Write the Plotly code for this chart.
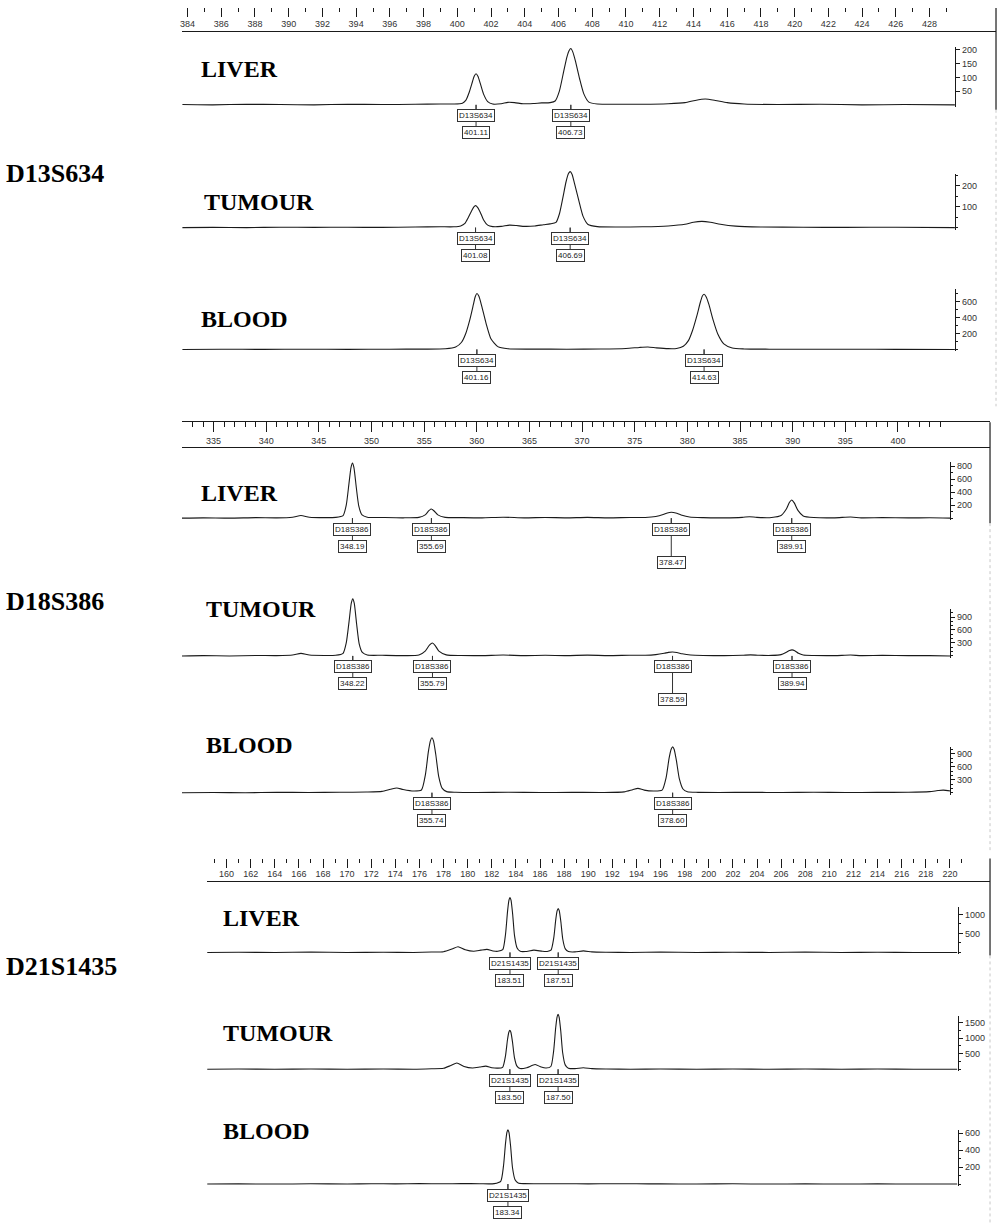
import plotly.graph_objects as go

# ---------------- data ----------------
markers = ["D13S634", "D18S386", "D21S1435"]
samples = ["LIVER", "TUMOUR", "BLOOD"]

d13_ruler_ticks = [384, 386, 388, 390, 392, 394, 396, 398, 400, 402, 404, 406, 408,
                   410, 412, 414, 416, 418, 420, 422, 424, 426, 428]
d18_ruler_ticks = [335, 340, 345, 350, 355, 360, 365, 370, 375, 380, 385, 390, 395, 400]
d21_ruler_ticks = [160, 162, 164, 166, 168, 170, 172, 174, 176, 178, 180, 182, 184, 186,
                   188, 190, 192, 194, 196, 198, 200, 202, 204, 206, 208, 210, 212, 214,
                   216, 218, 220]

# D13S634 traces
d13_liver_x = [383.7, 385.5, 387.5, 389.5, 391.5, 393.5, 395.5, 397.5, 399.0, 399.8,
               400.3, 400.5, 400.7, 400.9, 401.0, 401.11, 401.22, 401.35, 401.55, 401.8,
               402.1, 402.6, 403.0, 403.4, 403.9, 404.5, 405.0, 405.5, 405.8, 406.05,
               406.3, 406.5, 406.63, 406.73, 406.85, 407.0, 407.25, 407.5, 407.8, 408.3,
               409.5, 411.0, 412.5, 413.5, 414.1, 414.7, 415.3, 416.0, 417.0, 419.0,
               421.5, 424.0, 426.5, 429.5]
d13_liver_y = [1, 0, 2, 1, 0, 2, 1, 2, 3, 3,
               6, 16, 45, 85, 104, 113, 104, 80, 40, 12,
               3, 4, 9, 8, 4, 5, 7, 8, 14, 50,
               120, 175, 198, 205, 192, 160, 95, 40, 10, 3,
               2, 2, 4, 8, 16, 21, 16, 8, 3, 1,
               2, 0, 1, 0]
d13_tumour_x = [383.7, 385.5, 387.5, 389.5, 391.5, 393.5, 395.5, 397.5, 399.0, 399.8,
                400.2, 400.45, 400.65, 400.85, 400.97, 401.08, 401.2, 401.35, 401.55, 401.8,
                402.1, 402.6, 403.1, 403.5, 404.0, 404.6, 405.1, 405.5, 405.85, 406.05,
                406.25, 406.45, 406.59, 406.69, 406.8, 406.95, 407.2, 407.45, 407.75, 408.3,
                409.5, 411.0, 412.5, 413.5, 414.0, 414.5, 415.0, 415.6, 416.5, 418.0,
                420.5, 423.0, 426.0, 429.5]
d13_tumour_y = [0, 1, 0, 2, 1, 2, 1, 3, 4, 4,
                8, 20, 48, 80, 98, 105, 97, 75, 38, 12,
                5, 6, 12, 10, 6, 8, 14, 18, 25, 65,
                140, 220, 258, 267, 255, 210, 130, 55, 15, 5,
                3, 4, 8, 16, 26, 30, 26, 16, 7, 3,
                2, 1, 2, 0]
d13_blood_x = [383.7, 386.0, 388.5, 391.0, 393.5, 396.0, 398.0, 399.3, 399.9, 400.25,
               400.5, 400.75, 400.95, 401.06, 401.16, 401.28, 401.45, 401.7, 402.0, 402.4,
               403.0, 404.5, 406.5, 408.5, 410.0, 410.8, 411.3, 411.8, 412.5, 413.0,
               413.4, 413.7, 413.95, 414.2, 414.42, 414.53, 414.63, 414.75, 414.92, 415.15,
               415.45, 415.8, 416.3, 417.0, 418.5, 421.0, 423.5, 426.0, 429.5]
d13_blood_y = [0, 2, 1, 2, 1, 3, 4, 8, 30, 90,
               200, 380, 560, 660, 700, 665, 540, 330, 130, 35,
               8, 4, 3, 5, 12, 25, 30, 20, 10, 12,
               40, 110, 240, 420, 600, 670, 690, 660, 560, 380,
               190, 70, 18, 6, 3, 2, 3, 1, 0]

# D18S386 traces
d18_liver_x = [332.0, 334.0, 336.5, 339.0, 341.0, 342.5, 343.3, 344.1, 345.5, 346.6,
               347.3, 347.6, 347.85, 348.05, 348.19, 348.33, 348.55, 348.8, 349.1, 349.6,
               351.0, 353.0, 354.5, 355.1, 355.45, 355.69, 355.95, 356.3, 357.0, 358.5,
               360.5, 362.5, 364.5, 366.5, 368.5, 370.5, 372.5, 374.5, 376.0, 377.0,
               377.7, 378.1, 378.47, 378.9, 379.4, 380.2, 381.5, 383.5, 385.2, 385.9,
               386.6, 388.0, 388.9, 389.4, 389.7, 389.91, 390.15, 390.5, 391.0, 392.0,
               394.0, 395.5, 396.5, 398.5, 401.0, 403.0, 405.0]
d18_liver_y = [0, 5, 0, 8, 5, 15, 40, 15, 8, 12,
               40, 200, 520, 780, 848, 780, 480, 180, 50, 15,
               10, 5, 12, 50, 115, 140, 110, 50, 12, 8,
               5, 15, 5, 10, 5, 12, 5, 10, 10, 25,
               55, 80, 90, 80, 50, 18, 8, 5, 12, 22,
               12, 10, 40, 140, 245, 280, 235, 120, 35, 10,
               5, 18, 5, 8, 4, 6, 0]
d18_tumour_x = [332.0, 334.0, 336.5, 339.0, 341.0, 342.5, 343.3, 344.1, 345.5, 346.6,
                347.3, 347.6, 347.87, 348.08, 348.22, 348.36, 348.58, 348.83, 349.13, 349.6,
                351.0, 353.0, 354.5, 355.1, 355.5, 355.79, 356.05, 356.4, 357.1, 358.5,
                360.5, 362.5, 364.5, 366.5, 368.5, 370.5, 372.5, 374.5, 376.0, 377.0,
                377.8, 378.2, 378.59, 379.0, 379.5, 380.3, 381.5, 383.5, 385.2, 386.0,
                386.8, 388.0, 388.9, 389.4, 389.7, 389.94, 390.2, 390.55, 391.0, 392.0,
                394.0, 395.5, 396.5, 398.5, 401.0, 403.0, 405.0]
d18_tumour_y = [0, 8, 0, 10, 8, 20, 60, 20, 10, 15,
                60, 300, 800, 1220, 1320, 1220, 750, 280, 80, 20,
                15, 8, 20, 110, 250, 300, 240, 110, 25, 10,
                8, 20, 8, 15, 8, 18, 8, 15, 15, 30,
                60, 82, 90, 80, 50, 20, 10, 8, 15, 25,
                15, 12, 30, 85, 125, 140, 120, 60, 20, 10,
                8, 20, 8, 12, 6, 8, 0]
d18_blood_x = [332.0, 335.0, 338.0, 341.0, 344.0, 347.0, 349.5, 351.0, 351.8, 352.4,
               353.0, 354.0, 354.74, 355.12, 355.40, 355.60, 355.74, 355.88, 356.10, 356.38,
               356.72, 357.14, 358.0, 360.0, 363.0, 366.0, 369.0, 372.0, 374.0, 374.8,
               375.3, 375.9, 376.8, 377.6, 377.98, 378.26, 378.46, 378.60, 378.74, 378.96,
               379.24, 379.58, 380.0, 381.0, 383.0, 386.0, 389.0, 392.0, 395.0, 398.0,
               401.0, 403.0, 403.8, 404.3, 405.0]
d18_blood_y = [0, 5, 0, 8, 5, 10, 15, 30, 80, 110,
               75, 40, 63, 420, 950, 1205, 1270, 1205, 890, 380,
               100, 25, 10, 5, 10, 5, 8, 5, 20, 70,
               100, 60, 40, 60, 350, 795, 1007, 1060, 1007, 740,
               318, 85, 21, 8, 5, 8, 5, 10, 5, 8,
               10, 25, 50, 60, 40]

# D21S1435 traces
d21_liver_x = [158.4, 161.0, 164.0, 167.0, 170.0, 173.0, 175.5, 177.0, 178.0, 178.7,
               179.2, 179.8, 180.5, 181.1, 181.6, 182.1, 182.5, 182.91, 183.14, 183.31,
               183.425, 183.51, 183.595, 183.73, 183.89, 184.10, 184.36, 184.8, 185.5, 186.2,
               186.6, 186.91, 187.14, 187.31, 187.425, 187.51, 187.595, 187.73, 187.89, 188.10,
               188.36, 188.9, 189.6, 190.3, 191.5, 193.5, 196.0, 199.0, 202.0, 205.0,
               208.0, 211.0, 214.0, 217.0, 220.6]
d21_liver_y = [0, 5, 0, 8, 0, 5, 0, 10, 20, 90,
               150, 70, 30, 60, 80, 40, 30, 72, 480, 1090,
               1380, 1450, 1380, 1015, 435, 116, 29, 25, 60, 30,
               25, 58, 382, 870, 1100, 1158, 1100, 810, 347, 93,
               23, 15, 40, 15, 5, 0, 8, 0, 5, 0,
               8, 0, 5, 0, 0]
d21_tumour_x = [158.4, 161.0, 164.0, 167.0, 170.0, 173.0, 175.5, 177.0, 178.0, 178.6,
                179.1, 179.7, 180.4, 181.0, 181.5, 182.0, 182.5, 182.90, 183.13, 183.30,
                183.415, 183.50, 183.585, 183.72, 183.88, 184.09, 184.35, 184.9, 185.6, 186.1,
                186.5, 186.90, 187.13, 187.30, 187.415, 187.50, 187.585, 187.72, 187.88, 188.09,
                188.35, 188.9, 189.6, 190.3, 191.5, 193.5, 196.0, 199.0, 202.0, 205.0,
                208.0, 211.0, 214.0, 217.0, 220.6]
d21_tumour_y = [0, 8, 0, 10, 0, 8, 0, 15, 30, 120,
                200, 90, 40, 70, 100, 50, 35, 62, 410, 935,
                1183, 1245, 1183, 870, 375, 100, 25, 50, 150, 70,
                40, 88, 580, 1318, 1670, 1757, 1670, 1230, 527, 140,
                35, 20, 50, 20, 8, 0, 10, 0, 8, 0,
                10, 0, 8, 0, 0]
d21_blood_x = [158.4, 161.0, 164.0, 167.0, 170.0, 172.0, 174.0, 176.0, 178.0, 179.5,
               181.0, 182.2, 182.74, 182.97, 183.14, 183.255, 183.34, 183.425, 183.56, 183.72,
               183.93, 184.19, 184.7, 186.0, 188.0, 190.0, 192.0, 194.0, 196.0, 199.0,
               202.0, 205.0, 208.0, 211.0, 214.0, 217.0, 220.6]
d21_blood_y = [0, 2, 0, 3, 1, 4, 2, 5, 3, 6,
               4, 5, 32, 211, 480, 608, 640, 608, 448, 192,
               51, 13, 5, 3, 4, 2, 4, 3, 2, 1,
               3, 0, 2, 0, 2, 0, 0]

# called peaks (allele sizes)
d13_liver_peaks = [401.11, 406.73]
d13_tumour_peaks = [401.08, 406.69]
d13_blood_peaks = [401.16, 414.63]
d18_liver_peaks = [348.19, 355.69, 378.47, 389.91]
d18_tumour_peaks = [348.22, 355.79, 378.59, 389.94]
d18_blood_peaks = [355.74, 378.60]
d21_liver_peaks = [183.51, 187.51]
d21_tumour_peaks = [183.50, 187.50]
d21_blood_peaks = [183.34]

# right-hand intensity axis tick labels
d13_liver_yticks = [50, 100, 150, 200]
d13_tumour_yticks = [100, 200]
d13_blood_yticks = [200, 400, 600]
d18_liver_yticks = [200, 400, 600, 800]
d18_tumour_yticks = [300, 600, 900]
d18_blood_yticks = [300, 600, 900]
d21_liver_yticks = [500, 1000]
d21_tumour_yticks = [500, 1000, 1500]
d21_blood_yticks = [200, 400, 600]

# ---------------- layout helpers ----------------
W, H = 1000, 1223


def py(p):
    return 1 - p / H


SANS = "Liberation Sans Narrow, Liberation Sans, Arial, sans-serif"
SERIF = "Liberation Serif, Times New Roman, serif"
INK = "#1a1a1a"

blocks = [
    dict(marker_y=172, x0=180, x1=955, ppu=16.9, ref_val=401.11, ref_px=475,
         r_tick_top=6, r_major=9, r_minor=4, r_top_line=False, r_line=30, r_right=996,
         r_ticks=d13_ruler_ticks, r_minor_vals=list(range(385, 430, 2)),
         border=(6, 108, 405),
         panels=[
             dict(x=d13_liver_x, y=d13_liver_y, peaks=d13_liver_peaks, yt=d13_liver_yticks,
                  base=103, ppy=0.275, top=215, atop=212, minor=None, lab=(200, 67), long=[]),
             dict(x=d13_tumour_x, y=d13_tumour_y, peaks=d13_tumour_peaks, yt=d13_tumour_yticks,
                  base=226, ppy=0.21, top=275, atop=257, minor=50, lab=(203, 200), long=[]),
             dict(x=d13_blood_x, y=d13_blood_y, peaks=d13_blood_peaks, yt=d13_blood_yticks,
                  base=348, ppy=0.08, top=760, atop=760, minor=100, lab=(200, 318), long=[]),
         ]),
    dict(marker_y=600, x0=180, x1=950, ppu=10.55, ref_val=335, ref_px=212,
         r_tick_top=421, r_major=10, r_minor=5, r_top_line=True, r_line=447, r_right=990,
         r_ticks=d18_ruler_ticks, r_minor_vals=[v for v in range(333, 406) if v % 5],
         border=(421, 522, 850),
         panels=[
             dict(x=d18_liver_x, y=d18_liver_y, peaks=d18_liver_peaks, yt=d18_liver_yticks,
                  base=517, ppy=0.065, top=880, atop=860, minor=100, lab=(200, 492), long=[2]),
             dict(x=d18_tumour_x, y=d18_tumour_y, peaks=d18_tumour_peaks, yt=d18_tumour_yticks,
                  base=655, ppy=0.0433, top=1340, atop=1080, minor=100, lab=(205, 608), long=[2]),
             dict(x=d18_blood_x, y=d18_blood_y, peaks=d18_blood_peaks, yt=d18_blood_yticks,
                  base=792, ppy=0.0433, top=1300, atop=1050, minor=100, lab=(205, 744), long=[]),
         ]),
    dict(marker_y=966, x0=205, x1=958, ppu=12.08, ref_val=160, ref_px=225,
         r_tick_top=858, r_major=9, r_minor=4, r_top_line=False, r_line=881, r_right=990,
         r_ticks=d21_ruler_ticks, r_minor_vals=list(range(159, 222, 2)),
         border=(858, 955, 1223),
         panels=[
             dict(x=d21_liver_x, y=d21_liver_y, peaks=d21_liver_peaks, yt=d21_liver_yticks,
                  base=952, ppy=0.038, top=1470, atop=1200, minor=250, lab=(222, 917), long=[]),
             dict(x=d21_tumour_x, y=d21_tumour_y, peaks=d21_tumour_peaks, yt=d21_tumour_yticks,
                  base=1069, ppy=0.0313, top=1800, atop=1690, minor=250, lab=(222, 1033), long=[]),
             dict(x=d21_blood_x, y=d21_blood_y, peaks=d21_blood_peaks, yt=d21_blood_yticks,
                  base=1184, ppy=0.085, top=660, atop=640, minor=100, lab=(222, 1131), long=[]),
         ]),
]

fig = go.Figure()
layout = {}
annotations_num = []
annotations_name = []
annotations_text = []
shapes = []

pi = 0
for bi, b in enumerate(blocks):
    r0 = b["ref_val"] - (b["ref_px"] - b["x0"]) / b["ppu"]
    r1 = r0 + (b["x1"] - b["x0"]) / b["ppu"]
    rr = r0 + (b["r_right"] - b["x0"]) / b["ppu"]

    # ---- ruler: tick axis (hangs down from its top) and label axis (labels above line)
    tn, ln = 40 + 2 * bi, 41 + 2 * bi
    layout[f"yaxis{tn}"] = dict(visible=False, anchor=f"x{tn}", range=[0, 1],
                                domain=[py(b["r_tick_top"] + 1), py(b["r_tick_top"])])
    layout[f"xaxis{tn}"] = dict(
        domain=[b["x0"] / W, b["r_right"] / W], range=[r0, rr], side="top",
        anchor=f"y{tn}", showline=b["r_top_line"],
        linecolor=INK, linewidth=1, ticks="inside", ticklen=b["r_major"], tickwidth=1,
        tickcolor=INK, tickmode="array", tickvals=b["r_ticks"], showticklabels=False,
        minor=dict(ticks="inside", ticklen=b["r_minor"], tickwidth=1, tickcolor=INK,
                   tickmode="array", tickvals=b["r_minor_vals"]),
        showgrid=False, zeroline=False, fixedrange=True)
    layout[f"yaxis{ln}"] = dict(visible=False, anchor=f"x{ln}", range=[0, 1],
                                domain=[py(b["r_line"] + 1), py(b["r_line"])])
    layout[f"xaxis{ln}"] = dict(
        domain=[b["x0"] / W, b["r_right"] / W], range=[r0, rr], side="top",
        anchor=f"y{ln}", showline=True, linecolor=INK,
        linewidth=1, ticks="", tickmode="array", tickvals=b["r_ticks"],
        ticktext=[str(v) for v in b["r_ticks"]],
        tickfont=dict(family=SANS, size=9, color="#333"),
        showgrid=False, zeroline=False, fixedrange=True)
    for n in (tn, ln):
        fig.add_trace(go.Scatter(x=[r0], y=[0], xaxis=f"x{n}", yaxis=f"y{n}",
                                 mode="markers", marker=dict(opacity=0),
                                 hoverinfo="skip", showlegend=False))

    # right border
    shapes.append(dict(type="line", xref="paper", yref="paper",
                       x0=b["r_right"] / W, x1=b["r_right"] / W,
                       y0=py(b["border"][0]), y1=py(b["border"][1]),
                       line=dict(color=INK, width=1.2)))
    shapes.append(dict(type="line", xref="paper", yref="paper",
                       x0=b["r_right"] / W, x1=b["r_right"] / W,
                       y0=py(b["border"][1]), y1=py(b["border"][2]),
                       line=dict(color="#c8c8c8", width=1, dash="dot")))

    # marker label
    annotations_text.append(dict(text=f"<b>{markers[bi]}</b>", xref="paper", yref="paper",
                                 x=2 / W, y=py(b["marker_y"]), xanchor="left",
                                 yanchor="middle", showarrow=False,
                                 font=dict(family=SERIF, size=26, color="black")))

    for si, p in enumerate(b["panels"]):
        pi += 1
        ymin = -2.0 / p["ppy"]
        bottom_px = p["base"] + 2.0
        top_px = p["base"] - p["top"] * p["ppy"]
        atop_px = p["base"] - p["atop"] * p["ppy"]

        layout[f"xaxis{pi}"] = dict(domain=[b["x0"] / W, b["x1"] / W], range=[r0, r1],
                                    visible=False, anchor=f"y{pi}", fixedrange=True)
        layout[f"yaxis{pi}"] = dict(domain=[py(bottom_px), py(top_px)],
                                    range=[ymin, p["top"]], visible=False,
                                    anchor=f"x{pi}", fixedrange=True)
        minor = dict(ticks="outside", ticklen=2, tickwidth=1, tickcolor=INK,
                     dtick=p["minor"], tick0=0) if p["minor"] else dict(ticks="")
        layout[f"yaxis{20 + pi}"] = dict(
            domain=[py(bottom_px), py(atop_px)], range=[ymin, p["atop"]],
            anchor=f"x{pi}", side="right", showline=True, linecolor=INK, linewidth=1,
            ticks="outside", ticklen=4, tickwidth=1, tickcolor=INK,
            tickmode="array", tickvals=p["yt"], ticktext=[str(v) for v in p["yt"]],
            tickfont=dict(family=SANS, size=9, color="#333"), minor=minor,
            showgrid=False, zeroline=False, fixedrange=True)

        fig.add_trace(go.Scatter(x=p["x"], y=p["y"], xaxis=f"x{pi}", yaxis=f"y{pi}",
                                 mode="lines",
                                 line=dict(color=INK, width=1.1, shape="spline",
                                           smoothing=0.6),
                                 hoverinfo="skip", showlegend=False))
        fig.add_trace(go.Scatter(x=[r0], y=[0], xaxis=f"x{pi}", yaxis=f"y{20 + pi}",
                                 mode="markers", marker=dict(opacity=0),
                                 hoverinfo="skip", showlegend=False))

        # sample label
        annotations_text.append(dict(text=f"<b>{samples[si]}</b>", xref="paper",
                                     yref="paper", x=(p["lab"][0] - 3) / W,
                                     y=py(p["lab"][1]),
                                     xanchor="left", yanchor="middle", showarrow=False,
                                     font=dict(family=SERIF, size=24, color="black")))

        # peak call boxes
        for k, v in enumerate(p["peaks"]):
            drop = 44 if k in p["long"] else 28
            annotations_num.append(dict(
                text=f"{v:.2f}", x=v, y=0, xref=f"x{pi}", yref=f"y{pi}",
                showarrow=True, arrowhead=0, arrowwidth=1, arrowcolor="#333",
                ax=0, ay=drop, standoff=0, bgcolor="white", bordercolor="#333",
                borderwidth=1, borderpad=1, font=dict(family=SANS, size=8, color="#222")))
            annotations_name.append(dict(
                text=markers[bi], x=v, y=0, xref=f"x{pi}", yref=f"y{pi}",
                showarrow=True, arrowhead=0, arrowwidth=1, arrowcolor="#333",
                ax=0, ay=11, standoff=0, bgcolor="white", bordercolor="#333",
                borderwidth=1, borderpad=1, font=dict(family=SANS, size=8, color="#222")))

fig.update_layout(**layout)
fig.update_layout(
    width=W, height=H, margin=dict(l=0, r=0, t=0, b=0),
    paper_bgcolor="white", plot_bgcolor="rgba(0,0,0,0)", showlegend=False,
    annotations=annotations_num + annotations_name + annotations_text,
    shapes=shapes,
)

fig.write_html("out.html", config={"displayModeBar": False},
               post_script="document.body.style.margin='0';")
